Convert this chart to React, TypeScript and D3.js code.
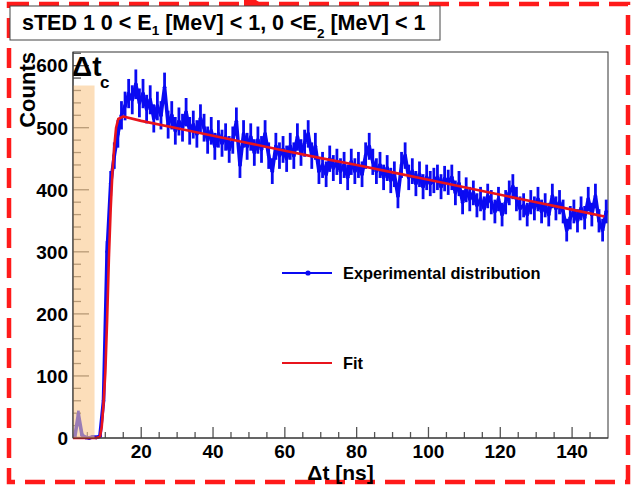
import React from "react";
import * as d3 from "d3";

// Histogram bin contents (1 ns bins, first bin centred at 1.5 ns)
const binStart = 1.5;
const binWidth = 1;
const counts = [
  2, 38, 5, 1, 0, 2, 1, 3, 60, 300,
  410, 455, 490, 520, 535, 555, 545, 570, 540, 555,
  530, 545, 515, 535, 520, 565, 505, 520, 495, 510,
  500, 525, 495, 505, 490, 515, 500, 480, 495, 470,
  490, 475, 485, 465, 480, 510, 440, 490, 470, 485,
  460, 480, 465, 490, 455, 430, 470, 455, 465, 450,
  470, 455, 485, 460, 475, 490, 455, 470, 430, 440,
  425, 450, 435, 445, 430, 440, 420, 445, 430, 440,
  425, 455, 470, 445, 430, 440, 420, 435, 415, 425,
  390, 440, 455, 420, 430, 410, 425, 405, 420, 410,
  415, 420, 405, 418, 412, 420, 395, 410, 380, 400,
  385, 395, 375, 385, 370, 390, 380, 365, 385, 360,
  380, 395, 405, 385, 370, 375, 360, 380, 370, 385,
  365, 375, 360, 390, 370, 380, 365, 335, 355, 365,
  350, 370, 355, 385, 360, 390, 350, 335, 365,
];

// Fit curve
const fitX = [1, 7.5, 8.5, 9, 9.5, 10, 10.5, 11, 11.5, 12, 12.5, 13, 13.6, 15, 20, 30, 40, 50, 60, 70, 80, 90, 100, 110, 120, 130, 140, 149];
const fitY = [0, 0, 2, 18, 55, 105, 190, 290, 370, 430, 470, 500, 514, 518, 511, 499, 487, 475, 463, 451, 440, 428, 416, 404, 392, 380, 368, 357];

const xMajorTicks = [20, 40, 60, 80, 100, 120, 140];
const yMajorTicks = [0, 100, 200, 300, 400, 500, 600];
const xDomain = [1, 150];
const yDomain = [0, 622];
const bandRange = [1, 7]; // Δt_c shaded region (ns)
const bandTop = 568;

const titleText = ["sTED 1 0 < E", "1", " [MeV] < 1, 0 <E", "2", " [MeV] < 1"];
const legendLabels = ["Experimental distribution", "Fit"];

const W = 635;
const H = 487;
const L = 73, R = 608, T = 52, B = 438;
const FONT = "'Liberation Sans', Arial, Helvetica, sans-serif";
const BLUE = "#0a0af2";
const RED = "#e8141c";

export default function App() {
  const x = d3.scaleLinear().domain(xDomain).range([L, R]);
  const y = d3.scaleLinear().domain(yDomain).range([B, T]);

  const pts = counts.map((c, i) => ({ x: binStart + i * binWidth, y: c, e: Math.sqrt(c) }));
  const dataLine = d3.line<{ x: number; y: number }>().x(d => x(d.x)).y(d => y(d.y))(pts) || "";
  const fitPts = fitX.map((v, i) => [v, fitY[i]] as [number, number]);
  const fitLine = d3.line().x(d => x(d[0])).y(d => y(d[1]))(fitPts) || "";

  const xMinor = d3.range(5, 150, 5).filter(v => v >= xDomain[0] && !xMajorTicks.includes(v));
  const yMinor = d3.range(20, 622, 20).filter(v => !yMajorTicks.includes(v));

  return (
    <svg width={W} height={H} style={{ position: "absolute", left: 0, top: 0, background: "#fff" }}
      fontFamily={FONT}>
      <rect x={0} y={0} width={W} height={H} fill="#fff" />
      {/* red dashed outer border */}
      <rect x={9} y={4} width={619} height={478} fill="none" stroke="#ff1a1a" strokeWidth={4.5}
        strokeDasharray="20 10" />
      <path d="M244,0 L256,0 L262,4 L256,8 L244,8 Z" fill="#ff1a1a" />

      {/* frame */}
      <rect x={L} y={T} width={R - L} height={B - T} fill="#fff" stroke="#333" strokeWidth={1} />

      {/* ticks */}
      {yMajorTicks.map(v => (
        <line key={"ym" + v} x1={L} x2={L + 16} y1={y(v)} y2={y(v)} stroke="#555" strokeWidth={1.3} />
      ))}
      {yMinor.map(v => (
        <line key={"yn" + v} x1={L} x2={L + 8} y1={y(v)} y2={y(v)} stroke="#555" strokeWidth={1.3} />
      ))}
      {xMajorTicks.map(v => (
        <line key={"xm" + v} x1={x(v)} x2={x(v)} y1={B} y2={B - 11} stroke="#555" strokeWidth={1.3} />
      ))}
      {xMinor.map(v => (
        <line key={"xn" + v} x1={x(v)} x2={x(v)} y1={B} y2={B - 6} stroke="#555" strokeWidth={1.3} />
      ))}

      {/* data */}
      {pts.map((p, i) => (
        <line key={"e" + i} x1={x(p.x)} x2={x(p.x)} y1={y(p.y - p.e)} y2={y(p.y + p.e)}
          stroke={BLUE} strokeWidth={2.8} />
      ))}
      <path d={dataLine} fill="none" stroke={BLUE} strokeWidth={3.6} strokeLinejoin="round" />
      {pts.map((p, i) => (
        <circle key={"m" + i} cx={x(p.x)} cy={y(p.y)} r={1.8} fill={BLUE} />
      ))}

      {/* fit */}
      <path d={fitLine} fill="none" stroke={RED} strokeWidth={2.6} strokeLinejoin="round" />

      {/* Δt_c band */}
      <rect x={x(bandRange[0])} y={y(bandTop)} width={x(bandRange[1]) - x(bandRange[0])}
        height={y(0) - y(bandTop)} fill="rgb(250,200,140)" fillOpacity={0.6} />
      <text x={72} y={76} fontSize={28} fontWeight="bold" fill="#000">Δt</text>
      <text x={100} y={88} fontSize={17} fontWeight="bold" fill="#000">c</text>

      {/* axis frame left/bottom on top */}
      <line x1={L} x2={L} y1={T} y2={B} stroke="#333" strokeWidth={1} />
      <line x1={L} x2={R} y1={B} y2={B} stroke="#333" strokeWidth={1} />

      {/* tick labels */}
      {yMajorTicks.map(v => (
        <text key={"yl" + v} x={68} y={y(v)} dy="0.36em" textAnchor="end" fontSize={19}
          fontWeight="bold">{v}</text>
      ))}
      {xMajorTicks.map(v => (
        <text key={"xl" + v} x={x(v)} y={458} textAnchor="middle" fontSize={19}
          fontWeight="bold">{v}</text>
      ))}

      {/* axis titles */}
      <text transform={`translate(35,${T}) rotate(-90)`} textAnchor="end" fontSize={22}
        fontWeight="bold">Counts</text>
      <text x={(L + R) / 2} y={480} textAnchor="middle" fontSize={21} fontWeight="bold">Δt [ns]</text>

      {/* legend */}
      <line x1={282} x2={332} y1={273} y2={273} stroke={BLUE} strokeWidth={2.2} />
      <circle cx={308} cy={273} r={2.6} fill={BLUE} />
      <text x={343} y={279} fontSize={16.4} fontWeight="bold">{legendLabels[0]}</text>
      <line x1={282} x2={332} y1={363} y2={363} stroke={RED} strokeWidth={2.2} />
      <text x={343} y={369} fontSize={16.4} fontWeight="bold">{legendLabels[1]}</text>

      {/* title box */}
      <rect x={10} y={6} width={430} height={34} fill="#fff" stroke="#444" strokeWidth={1} />
      <text x={22} y={30} fontSize={21.5} fontWeight="bold">
        <tspan>{titleText[0]}</tspan>
        <tspan fontSize={13.5} dy={5}>{titleText[1]}</tspan>
        <tspan dy={-5}>{titleText[2]}</tspan>
        <tspan fontSize={13.5} dy={8}>{titleText[3]}</tspan>
        <tspan dy={-8}>{titleText[4]}</tspan>
      </text>
    </svg>
  );
}
